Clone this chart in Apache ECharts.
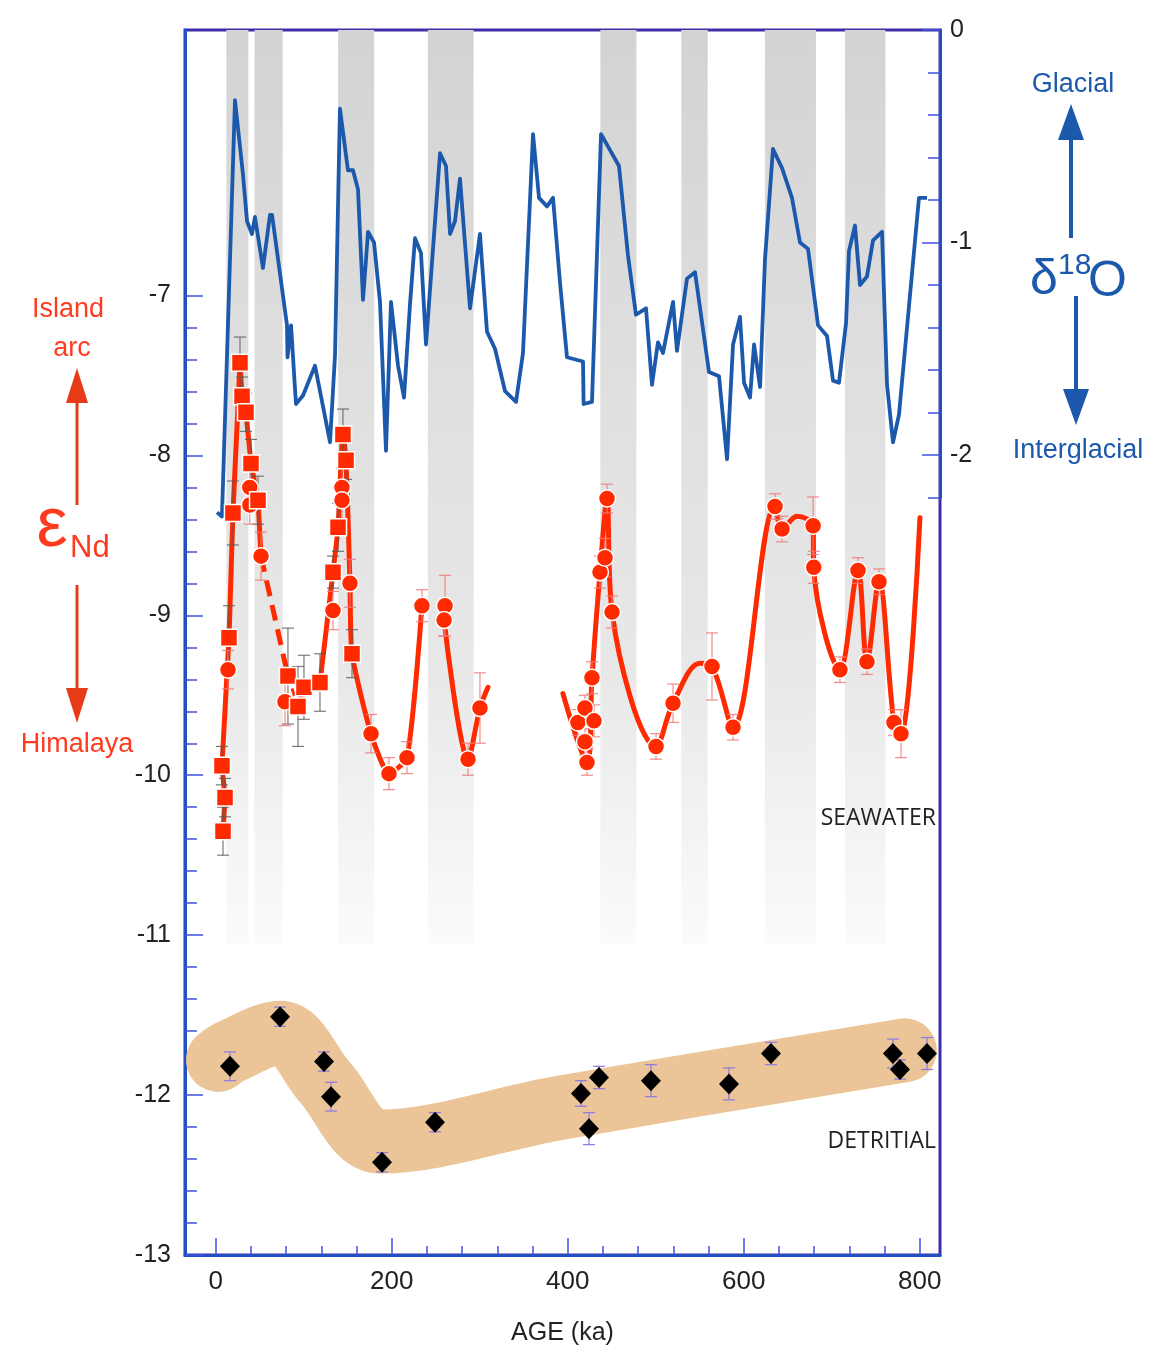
<!DOCTYPE html>
<html><head><meta charset="utf-8">
<script src="https://cdn.jsdelivr.net/npm/echarts@6/dist/echarts.min.js"></script>
<style>html,body{margin:0;padding:0;background:#fff}#c{width:1164px;height:1353px}</style>
</head><body><div id="c"></div>
<script>
// ---------- axis ranges / ticks ----------
const AGE_MIN = -35, AGE_MAX = 823;
const ND_MIN = -13, ND_MAX = -5.34;
const O18_MIN = -5.765, O18_MAX = 0;      // right axis over the full plot height
const O18_AXIS_END = -2.2;                 // right axis line / ticks stop here
const ageMajorTicks = [0, 200, 400, 600, 800];
const ageMinorTicks = [0,40,80,120,160,200,240,280,320,360,400,440,480,520,560,600,640,680,720,760,800];
const ndLabels = [-13, -12, -11, -10, -9, -8, -7];
const o18Labels = [0, -1, -2];

// ---------- glacial bands (ka) ----------
const bandStart = [12, 44, 139, 241, 437, 529, 624, 715];
const bandEnd   = [37, 76, 180, 293, 478, 559, 682, 761];
const BAND_TOP = -5.34, BAND_BOTTOM = -11.06;

// ---------- benthic d18O ----------
const d18oAge = [1.4,7.0,21.8,30.9,35.5,41.1,44.5,53.6,61.6,63.9,80.9,81.5,85.5,91.1,99.1,112.7,129.8,135.5,141.1,150.2,155.9,161.6,167.3,173,179.8,186.6,193.4,199.1,207.1,213.9,220.7,226.4,233.2,238.9,254.8,261.6,266.2,271.8,277.5,288.9,300.2,308.2,317.3,328.7,341.2,349.1,360.5,367.3,376.4,383.2,391.2,399.1,417.3,418,427.5,437.8,458.2,468.4,477.5,488.9,495.7,502.5,508.2,519.6,524.1,535.5,544.6,560.5,571.9,581,587.8,595.7,600.3,607.1,611.7,618.5,624.1,633.2,643.5,654.8,663.9,673,684.4,694.6,701.4,708.2,716.2,719.6,726.4,732.1,740,746.9,757.1,762.8,769.6,776.4,799.1,808.2];
const d18oVal = [-2.27,-2.29,-0.33,-0.68,-0.90,-0.96,-0.88,-1.12,-0.87,-0.87,-1.39,-1.54,-1.39,-1.76,-1.72,-1.58,-1.94,-1.53,-0.37,-0.66,-0.66,-0.75,-1.27,-0.95,-1.00,-1.28,-1.98,-1.28,-1.58,-1.73,-1.29,-0.98,-1.05,-1.48,-0.58,-0.64,-0.96,-0.90,-0.70,-1.31,-0.96,-1.42,-1.50,-1.70,-1.75,-1.52,-0.49,-0.79,-0.83,-0.79,-1.19,-1.54,-1.56,-1.76,-1.75,-0.49,-0.64,-1.06,-1.34,-1.31,-1.67,-1.47,-1.52,-1.28,-1.51,-1.17,-1.14,-1.61,-1.63,-2.02,-1.48,-1.35,-1.66,-1.73,-1.48,-1.68,-1.08,-0.56,-0.65,-0.79,-1.00,-1.03,-1.39,-1.44,-1.65,-1.66,-1.38,-1.04,-0.92,-1.20,-1.16,-0.99,-0.95,-1.67,-1.94,-1.81,-0.79,-0.79];

// ---------- seawater eNd paths ----------
const swPathAAge = [8.2,10.5,7.0,15.0,19.5,27.5,29.8,34.3,40,48,51.4];
const swPathANd  = [-10.35,-10.14,-9.94,-9.14,-8.36,-7.42,-7.63,-7.73,-8.05,-8.28,-8.63];
const swDashAAge = [51.4, 82];
const swDashANd  = [-8.63, -9.38];
const swDashBAge = [82, 93.4, 100.2, 118.4];
const swDashBNd  = [-9.38, -9.57, -9.45, -9.42];
const swPathBAge = [118.4,133.2,138.9,144.5,148,152.5,154.8,176.4,196.8,217.3,234.3];
const swPathBNd  = [-9.42,-8.73,-8.45,-7.87,-8.03,-8.80,-9.24,-9.74,-9.99,-9.89,-8.94];
const swPathCAge = [259.4,286.6,300.2,309.3];
const swPathCNd  = [-9.03,-9.90,-9.58,-9.45];
const swPathDAge = [394.5,421.8,427.5,436.6,444.6,450.3,500.3,519.6,550.2,563.9,587.8,635.5,643.5,660.5,678.8,679.5,709.3,729.8,740,753.7,770.7,778.7,800.2];
const swPathDNd  = [-9.49,-9.92,-9.39,-8.73,-8.27,-8.98,-9.82,-9.55,-9.30,-9.32,-9.70,-8.32,-8.46,-8.38,-8.44,-8.70,-9.34,-8.72,-9.29,-8.79,-9.67,-9.74,-8.39];

// square samples
const sqAge = [8.2,10.5,7.0,15.0,19.5,27.5,29.8,34.3,40,48,82,93.4,100.2,118.4,133.2,138.9,144.5,148,154.8];
const sqNd  = [-10.35,-10.14,-9.94,-9.14,-8.36,-7.42,-7.63,-7.73,-8.05,-8.28,-9.38,-9.57,-9.45,-9.42,-8.73,-8.45,-7.87,-8.03,-9.24];
const sqErr = [0.15,0.12,0.12,0.2,0.2,0.16,0.12,0.12,0.15,0.15,0.3,0.25,0.2,0.18,0.1,0.15,0.16,0.12,0.15];
// circle samples
const ciAge = [13.9,38.6,38.6,51.4,78.6,133.2,143.4,143.4,152.5,176.4,196.8,217.3,234.3,260.5,259.4,286.6,300.2,411.5,419.5,419.5,421.8,427.5,429.8,436.6,442.3,444.6,450.3,500.3,519.6,563.9,587.8,635.5,643.5,678.8,679.5,709.3,729.8,740,753.7,770.7,778.7];
const ciNd  = [-9.34,-8.20,-8.31,-8.63,-9.54,-8.97,-8.20,-8.28,-8.80,-9.74,-9.99,-9.89,-8.94,-8.94,-9.03,-9.90,-9.58,-9.67,-9.58,-9.79,-9.92,-9.39,-9.66,-8.73,-8.64,-8.27,-8.98,-9.82,-9.55,-9.32,-9.70,-8.32,-8.46,-8.44,-8.70,-9.34,-8.72,-9.29,-8.79,-9.67,-9.74];
const ciErr = [0.12,0.12,0.12,0.15,0.15,0.12,0.12,0.12,0.15,0.12,0.1,0.1,0.1,0.19,0.1,0.1,0.22,0.08,0.08,0.08,0.08,0.1,0.1,0.1,0.12,0.09,0.1,0.08,0.12,0.21,0.08,0.08,0.08,0.18,0.1,0.08,0.08,0.08,0.08,0.08,0.15];

// ---------- detrital ----------
const detAge = [16.1,73,123,130.9,188.9,249.1,415,424.1,435.5,494.5,583.2,630.9,769.5,777.5,808.2];
const detNd  = [-11.82,-11.51,-11.79,-12.01,-12.42,-12.17,-11.99,-12.21,-11.89,-11.91,-11.93,-11.74,-11.74,-11.84,-11.74];
const detErr = [0.09,0.06,0.06,0.09,0.06,0.06,0.08,0.1,0.07,0.1,0.1,0.07,0.09,0.06,0.1];
const envAge = [2.5,16,73,124,187,391,783];
const envNd  = [-11.78,-11.73,-11.61,-11.92,-12.29,-12.08,-11.72];

// ---------- helpers ----------
const zip = (a, b) => a.map((v, i) => [v, b[i]]);
const range = (from, to, step) => { const r = []; for (let v = from; v <= to + 1e-9; v += step) r.push(Math.round(v * 10) / 10); return r; };
const RED = '#ff2a00', BLUE = '#1c59ad', AXB = '#2150c4', TICK = '#4050e0';

function errItem(color, cap) {
  return function (params, api) {
    const x = api.value(0), lo = api.value(1), hi = api.value(2);
    const a = api.coord([x, lo]), b = api.coord([x, hi]);
    const st = { stroke: color, lineWidth: 1.2 };
    return { type: 'group', children: [
      { type: 'line', shape: { x1: a[0], y1: a[1], x2: b[0], y2: b[1] }, style: st },
      { type: 'line', shape: { x1: a[0] - cap, y1: a[1], x2: a[0] + cap, y2: a[1] }, style: st },
      { type: 'line', shape: { x1: b[0] - cap, y1: b[1], x2: b[0] + cap, y2: b[1] }, style: st }
    ]};
  };
}
const errData = (ages, vals, errs) => ages.map((a, i) => [a, vals[i] - errs[i], vals[i] + errs[i]]);

const chart = echarts.init(document.getElementById('c'), null, { renderer: 'canvas' });

const xBase = { type: 'value', min: AGE_MIN, max: AGE_MAX, splitLine: { show: false } };
const redLine = (ages, nds, extra) => Object.assign({
  type: 'line', xAxisIndex: 0, yAxisIndex: 0, data: zip(ages, nds), showSymbol: false, symbol: 'none',
  lineStyle: { color: RED, width: 5, cap: 'round', join: 'round' }, z: 4, silent: true
}, extra || {});
const tickStyle = () => ({ color: TICK, width: 1.5 });
const hiddenLabel = { show: false };

const option = {
  animation: false,
  backgroundColor: '#ffffff',
  grid: [
    { left: 185, top: 30, width: 755, height: 1225, show: true, borderColor: '#3d2fa8', borderWidth: 3, backgroundColor: 'transparent' },
    { left: 185, top: 30, width: 755, height: 467.5 },
    { left: 185, top: 30, width: 755, height: 1225 }
  ],
  xAxis: [
    Object.assign({}, xBase, { gridIndex: 0, position: 'bottom',
      axisLine: { show: true, onZero: false, lineStyle: { color: AXB, width: 3 } },
      axisTick: { show: true, inside: true, length: 9, customValues: ageMinorTicks, lineStyle: tickStyle() },
      axisLabel: { show: true, customValues: ageMajorTicks, fontSize: 26, color: '#222', margin: 14, fontFamily: 'Liberation Sans' },
      name: 'AGE (ka)', nameLocation: 'middle', nameGap: 66, nameTextStyle: { fontSize: 25, color: '#222', fontFamily: 'Liberation Sans' } }),
    Object.assign({}, xBase, { gridIndex: 1, show: false, axisLine: { show: false, onZero: false } }),
    Object.assign({}, xBase, { gridIndex: 2, position: 'bottom', axisLine: { show: false, onZero: false },
      axisTick: { show: true, inside: true, length: 17, customValues: ageMajorTicks, lineStyle: tickStyle() },
      axisLabel: hiddenLabel })
  ],
  yAxis: [
    { type: 'value', gridIndex: 0, position: 'left', min: ND_MIN, max: ND_MAX, splitLine: { show: false },
      axisLine: { show: true, onZero: false, lineStyle: { color: AXB, width: 3 } },
      axisTick: { show: true, inside: true, length: 12, customValues: range(-13, -7, 0.2), lineStyle: tickStyle() },
      axisLabel: { show: true, customValues: ndLabels, fontSize: 25, color: '#222', margin: 14, fontFamily: 'Liberation Sans' } },
    { type: 'value', gridIndex: 0, position: 'right', min: O18_MIN, max: O18_MAX, splitLine: { show: false },
      axisLine: { show: false, onZero: false },
      axisTick: { show: true, inside: true, length: 12, customValues: range(O18_AXIS_END, 0, 0.2), lineStyle: tickStyle() },
      axisLabel: { show: true, customValues: o18Labels, fontSize: 25, color: '#222', margin: 10, fontFamily: 'Liberation Sans' } },
    { type: 'value', gridIndex: 1, position: 'right', min: O18_AXIS_END, max: O18_MAX, splitLine: { show: false },
      axisLine: { show: true, onZero: false, lineStyle: { color: AXB, width: 3 } },
      axisTick: { show: false }, axisLabel: hiddenLabel },
    { type: 'value', gridIndex: 2, position: 'left', min: ND_MIN, max: ND_MAX, splitLine: { show: false },
      axisLine: { show: false, onZero: false },
      axisTick: { show: true, inside: true, length: 18, customValues: ndLabels, lineStyle: tickStyle() },
      axisLabel: hiddenLabel },
    { type: 'value', gridIndex: 2, position: 'right', min: O18_MIN, max: O18_MAX, splitLine: { show: false },
      axisLine: { show: false, onZero: false },
      axisTick: { show: true, inside: true, length: 18, customValues: o18Labels, lineStyle: tickStyle() },
      axisLabel: hiddenLabel }
  ],
  series: [
    { type: 'custom', xAxisIndex: 0, yAxisIndex: 0, z: 1, silent: true,
      data: bandStart.map((s, i) => [s, bandEnd[i], BAND_TOP, BAND_BOTTOM]),
      encode: { x: [0, 1], y: [2, 3] },
      renderItem: function (params, api) {
        const p0 = api.coord([api.value(0), api.value(2)]);
        const p1 = api.coord([api.value(1), api.value(3)]);
        return { type: 'rect', shape: { x: p0[0], y: p0[1], width: p1[0] - p0[0], height: p1[1] - p0[1] },
          style: { fill: new echarts.graphic.LinearGradient(0, 0, 0, 1, [
            { offset: 0, color: '#d3d3d3' }, { offset: 0.35, color: '#dedede' },
            { offset: 0.7, color: '#e8e8e8' }, { offset: 1, color: '#fbfbfb' }]) } };
      } },
    { type: 'line', xAxisIndex: 0, yAxisIndex: 0, data: zip(envAge, envNd), smooth: 0.35, showSymbol: false, symbol: 'none',
      lineStyle: { color: '#ebc597', width: 64, cap: 'round', join: 'round' }, z: 2, silent: true },
    { type: 'line', xAxisIndex: 0, yAxisIndex: 1, data: zip(d18oAge, d18oVal), showSymbol: false, symbol: 'none',
      lineStyle: { color: BLUE, width: 3.8, join: 'round' }, z: 3, silent: true },
    redLine(swPathAAge, swPathANd),
    redLine(swDashAAge, swDashANd, { lineStyle: { color: RED, width: 5, type: [16, 9] } }),
    redLine(swDashBAge, swDashBNd, { lineStyle: { color: RED, width: 3, type: [8, 5] } }),
    redLine(swPathBAge, swPathBNd, { smooth: 0.2 }),
    redLine(swPathCAge, swPathCNd, { smooth: 0.3 }),
    redLine(swPathDAge, swPathDNd, { smooth: 0.35 }),
    { type: 'custom', xAxisIndex: 0, yAxisIndex: 0, z: 5, silent: true, data: errData(sqAge, sqNd, sqErr),
      encode: { x: 0, y: [1, 2] }, renderItem: errItem('rgba(90,90,90,0.8)', 6) },
    { type: 'custom', xAxisIndex: 0, yAxisIndex: 0, z: 5, silent: true, data: errData(ciAge, ciNd, ciErr),
      encode: { x: 0, y: [1, 2] }, renderItem: errItem('rgba(240,120,120,0.85)', 6) },
    { type: 'custom', xAxisIndex: 0, yAxisIndex: 0, z: 5, silent: true, data: errData(detAge, detNd, detErr),
      encode: { x: 0, y: [1, 2] }, renderItem: errItem('#8a78e0', 6) },
    { type: 'scatter', xAxisIndex: 0, yAxisIndex: 0, data: zip(ciAge, ciNd), symbol: 'circle', symbolSize: 17,
      itemStyle: { color: RED, borderColor: '#fff', borderWidth: 1.5, opacity: 1 }, z: 6, silent: true },
    { type: 'scatter', xAxisIndex: 0, yAxisIndex: 0, data: zip(sqAge, sqNd), symbol: 'rect', symbolSize: 17,
      itemStyle: { color: RED, borderColor: '#fff', borderWidth: 1.5, opacity: 1 }, z: 7, silent: true },
    { type: 'scatter', xAxisIndex: 0, yAxisIndex: 0, data: zip(detAge, detNd), symbol: 'diamond', symbolSize: [20, 21],
      itemStyle: { color: '#000', opacity: 1 }, z: 7, silent: true }
  ],
  graphic: [
    { type: 'text', z: 20, style: { x: 936, y: 818, text: 'SEAWATER', textAlign: 'right', textVerticalAlign: 'middle', font: '23px "Open Sans"', fill: '#222' } },
    { type: 'text', z: 20, style: { x: 936, y: 1141, text: 'DETRITIAL', textAlign: 'right', textVerticalAlign: 'middle', font: '23px "Open Sans"', fill: '#222' } },
    { type: 'text', z: 20, style: { x: 68, y: 310, text: 'Island', textAlign: 'center', textVerticalAlign: 'middle', font: '27px "Liberation Sans"', fill: '#ff3b1f' } },
    { type: 'text', z: 20, style: { x: 72, y: 349, text: 'arc', textAlign: 'center', textVerticalAlign: 'middle', font: '27px "Liberation Sans"', fill: '#ff3b1f' } },
    { type: 'text', z: 20, style: { x: 77, y: 745, text: 'Himalaya', textAlign: 'center', textVerticalAlign: 'middle', font: '27px "Liberation Sans"', fill: '#ff3b1f' } },
    { type: 'text', z: 20, style: { x: 52, y: 527, text: 'ε', textAlign: 'center', textVerticalAlign: 'middle', font: '70px "Liberation Sans"', fill: '#ff3b1f' } },
    { type: 'text', z: 20, style: { x: 70, y: 548, text: 'Nd', textAlign: 'left', textVerticalAlign: 'middle', font: '31px "Liberation Sans"', fill: '#ff3b1f' } },
    { type: 'line', z: 20, shape: { x1: 77, y1: 398, x2: 77, y2: 505 }, style: { stroke: '#e63b17', lineWidth: 3 } },
    { type: 'polygon', z: 20, shape: { points: [[77, 368], [66, 403], [88, 403]] }, style: { fill: '#e63b17' } },
    { type: 'line', z: 20, shape: { x1: 77, y1: 585, x2: 77, y2: 692 }, style: { stroke: '#e63b17', lineWidth: 3 } },
    { type: 'polygon', z: 20, shape: { points: [[77, 723], [66, 688], [88, 688]] }, style: { fill: '#e63b17' } },
    { type: 'text', z: 20, style: { x: 1073, y: 85, text: 'Glacial', textAlign: 'center', textVerticalAlign: 'middle', font: '27px "Liberation Sans"', fill: BLUE } },
    { type: 'text', z: 20, style: { x: 1078, y: 451, text: 'Interglacial', textAlign: 'center', textVerticalAlign: 'middle', font: '27px "Liberation Sans"', fill: BLUE } },
    { type: 'text', z: 20, style: { x: 1030, y: 280, text: 'δ', textAlign: 'left', textVerticalAlign: 'middle', font: '50px "Liberation Sans"', fill: BLUE } },
    { type: 'text', z: 20, style: { x: 1058, y: 266, text: '18', textAlign: 'left', textVerticalAlign: 'middle', font: '30px "Liberation Sans"', fill: BLUE } },
    { type: 'text', z: 20, style: { x: 1088, y: 282, text: 'O', textAlign: 'left', textVerticalAlign: 'middle', font: '50px "Liberation Sans"', fill: BLUE } },
    { type: 'line', z: 20, shape: { x1: 1071, y1: 135, x2: 1071, y2: 238 }, style: { stroke: BLUE, lineWidth: 4 } },
    { type: 'polygon', z: 20, shape: { points: [[1071, 104], [1058, 140], [1084, 140]] }, style: { fill: BLUE } },
    { type: 'line', z: 20, shape: { x1: 1076, y1: 296, x2: 1076, y2: 395 }, style: { stroke: BLUE, lineWidth: 4 } },
    { type: 'polygon', z: 20, shape: { points: [[1076, 425], [1063, 389], [1089, 389]] }, style: { fill: BLUE } }
  ]
};
chart.setOption(option);
</script></body></html>
